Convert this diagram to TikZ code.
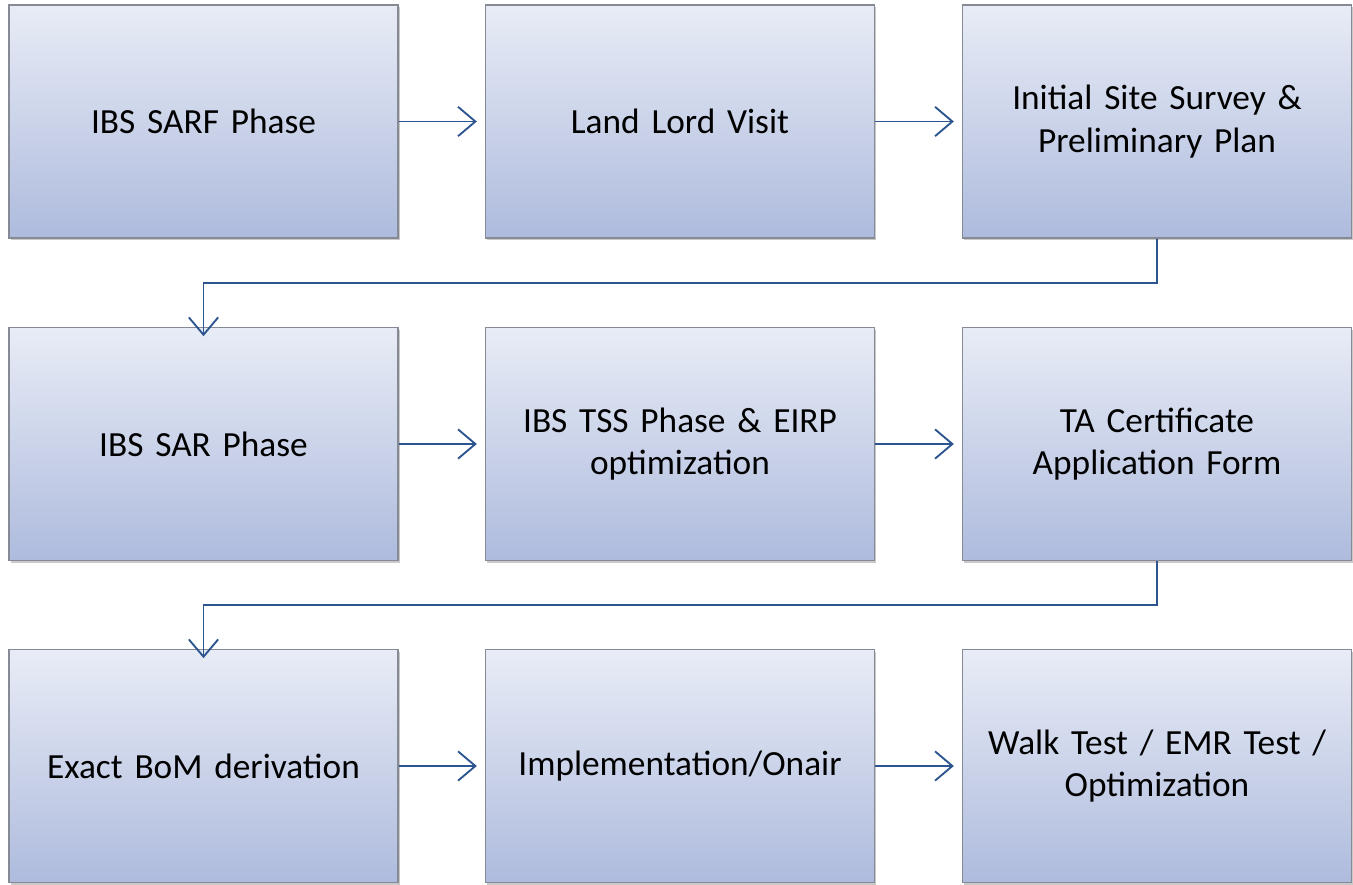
\documentclass[tikz,border=0pt]{standalone}
\usepackage{fontspec}
\setmainfont{Carlito}
\usetikzlibrary{arrows.meta,shadows}
\definecolor{boxtop}{HTML}{E8ECF6}
\definecolor{boxbot}{HTML}{AEBBDD}
\definecolor{boxline}{HTML}{868A94}
\definecolor{arr}{HTML}{2C5590}
\begin{document}
\begin{tikzpicture}[x=0.75pt,y=-0.75pt,
  stepbox/.style={rectangle, draw=boxline, line width=1pt,
    top color=boxtop, bottom color=boxbot,
    minimum width=389*0.75pt, minimum height=233*0.75pt,
    inner sep=0pt, align=center, text width=360*0.75pt,
    font=\fontsize{26.5pt}{32pt}\selectfont,
    drop shadow={shadow xshift=1.2pt, shadow yshift=-1.5pt, opacity=0.35, fill=black!60}},
  conn/.style={draw=arr, line width=1.4pt, -{Straight Barb[length=13pt,width=22pt,line width=1.4pt]}}
]
\useasboundingbox (0,0) rectangle (1353,885);
\fill[white] (0,0) rectangle (1353,885);
\node[stepbox] (a1) at (203.5,121.5) {IBS SARF Phase};
\node[stepbox] (a2) at (680,121.5) {Land Lord Visit};
\node[stepbox] (a3) at (1157,121.5) {Initial Site Survey \&\\Preliminary Plan};
\node[stepbox] (b1) at (203.5,444) {IBS SAR Phase};
\node[stepbox] (b2) at (680,444) {IBS TSS Phase \& EIRP\\optimization};
\node[stepbox] (b3) at (1157,444) {TA Certificate\\Application Form};
\node[stepbox] (c1) at (203.5,766) {Exact BoM derivation};
\node[stepbox] (c2) at (680,766) {Implementation/Onair};
\node[stepbox] (c3) at (1157,766) {Walk Test / EMR Test /\\Optimization};
\draw[conn] (a1.east) -- ([xshift=-6]a2.west);
\draw[conn] (a2.east) -- ([xshift=-6]a3.west);
\draw[conn] (b1.east) -- ([xshift=-6]b2.west);
\draw[conn] (b2.east) -- ([xshift=-6]b3.west);
\draw[conn] (c1.east) -- ([xshift=-6]c2.west);
\draw[conn] (c2.east) -- ([xshift=-6]c3.west);
\coordinate (k1) at (1157,283);
\coordinate (k2) at (203.5,283);
\draw[conn] (a3.south) -- (k1) -- (k2) -- ([yshift=-7]b1.north);
\coordinate (m1) at (1157,605);
\coordinate (m2) at (203.5,605);
\draw[conn] (b3.south) -- (m1) -- (m2) -- ([yshift=-7]c1.north);
\end{tikzpicture}
\end{document}
